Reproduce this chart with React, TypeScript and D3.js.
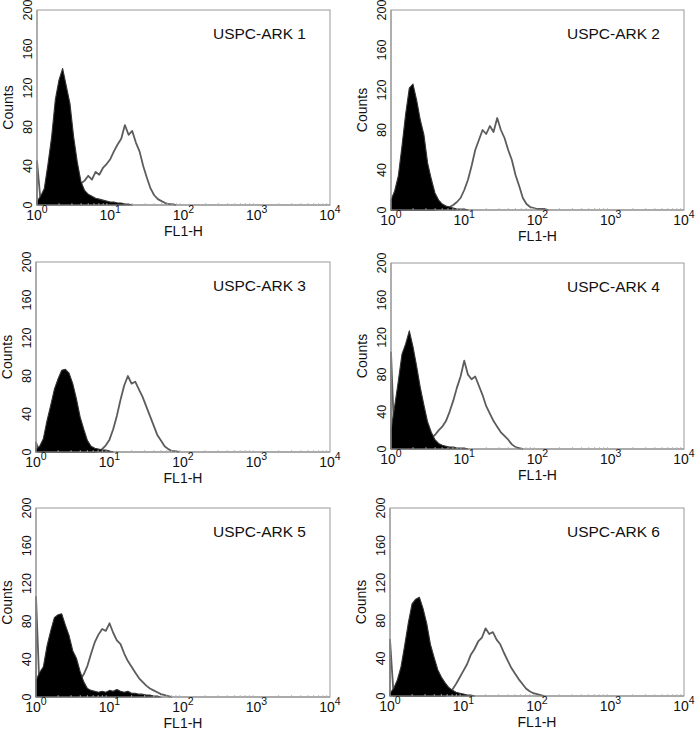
import React from "react";
import * as d3 from "d3";

// histogram bins: one value every 0.05 decade, starting at 10^0
const BIN = 0.05;

const titles = ["USPC-ARK 1", "USPC-ARK 2", "USPC-ARK 3", "USPC-ARK 4", "USPC-ARK 5", "USPC-ARK 6"];
const yTicks = [0, 40, 80, 120, 160, 200];
const xTicks = [1, 10, 100, 1000, 10000];
const xExponents = ["0", "1", "2", "3", "4"];

// filled = control (black), open = stained (grey outline)
const ark1Filled = [4, 9, 17, 42, 70, 108, 128, 140, 122, 104, 70, 44, 24, 15, 11, 9, 7, 6, 5, 4, 3, 3, 2, 2, 1, 1, 0];
const ark1Open = [45, 3, 4, 6, 8, 10, 12, 14, 16, 18, 19, 21, 22, 25, 30, 26, 34, 31, 38, 42, 47, 55, 62, 68, 82, 72, 76, 64, 55, 40, 28, 17, 10, 6, 4, 2, 1, 1, 0];

const ark2Filled = [10, 19, 34, 64, 96, 122, 126, 110, 90, 75, 47, 31, 17, 10, 6, 4, 3, 2, 1, 1, 1, 0];
const ark2Open = [0, 0, 0, 0, 0, 0, 0, 0, 0, 0, 0, 0, 0, 1, 1, 1, 3, 5, 8, 12, 20, 30, 44, 60, 70, 80, 76, 84, 78, 92, 80, 72, 60, 50, 35, 24, 12, 6, 3, 2, 1, 1, 1, 0];

const ark3Filled = [3, 6, 14, 33, 49, 66, 77, 86, 87, 83, 72, 56, 37, 24, 12, 6, 4, 3, 2, 2, 1, 0];
const ark3Open = [10, 0, 0, 0, 0, 0, 0, 0, 0, 0, 0, 0, 0, 0, 0, 0, 0, 1, 3, 7, 13, 24, 38, 55, 70, 80, 72, 74, 66, 58, 48, 38, 28, 18, 12, 6, 3, 1, 1, 0];

const ark4Filled = [20, 46, 73, 102, 113, 127, 110, 89, 66, 47, 29, 18, 10, 6, 4, 3, 2, 2, 1, 1, 1, 0];
const ark4Open = [104, 2, 3, 4, 5, 6, 7, 8, 9, 10, 11, 12, 15, 20, 24, 30, 40, 52, 66, 78, 95, 80, 75, 78, 68, 58, 46, 38, 30, 24, 18, 14, 10, 5, 2, 1, 0];

const ark5Filled = [18, 26, 32, 54, 70, 84, 87, 88, 76, 65, 49, 41, 27, 16, 9, 7, 6, 5, 6, 5, 7, 6, 8, 6, 5, 6, 4, 4, 3, 3, 2, 2, 1, 1, 0];
const ark5Open = [106, 4, 5, 6, 7, 8, 9, 10, 11, 12, 13, 14, 18, 24, 33, 46, 58, 66, 72, 70, 78, 68, 60, 56, 46, 38, 32, 26, 20, 16, 12, 9, 7, 5, 3, 2, 1, 0];

const ark6Filled = [3, 8, 17, 31, 54, 78, 98, 103, 105, 93, 77, 55, 41, 28, 20, 14, 9, 6, 4, 3, 2, 1, 1, 0];
const ark6Open = [60, 0, 0, 0, 0, 0, 0, 0, 0, 0, 0, 0, 0, 0, 0, 0, 4, 7, 13, 20, 27, 34, 44, 50, 58, 62, 72, 66, 68, 60, 55, 46, 38, 30, 24, 18, 13, 8, 5, 3, 2, 1, 0];

const filledSeries = [ark1Filled, ark2Filled, ark3Filled, ark4Filled, ark5Filled, ark6Filled];
const openSeries = [ark1Open, ark2Open, ark3Open, ark4Open, ark5Open, ark6Open];

// panel frames (pixel layout of the scanned figure)
const FRAMES = [
  { left: 37, right: 330, top: 10, bottom: 205 },
  { left: 391, right: 684, top: 10, bottom: 210 },
  { left: 36, right: 330, top: 262, bottom: 452 },
  { left: 391, right: 684, top: 263, bottom: 449 },
  { left: 36, right: 330, top: 508, bottom: 697 },
  { left: 390, right: 684, top: 508, bottom: 696 },
];

const FONT = "'Liberation Sans', Arial, Helvetica, sans-serif";

type Pt = { x: number; v: number };

const toPoints = (vals: number[]): Pt[] => vals.map((v, i) => ({ x: Math.pow(10, i * BIN), v }));

const Panel = ({ frame, title, filled, open }) => {
  const { left, right, top, bottom } = frame;
  const x = d3.scaleLog().domain([1, 10000]).range([left, right]);
  const y = d3.scaleLinear().domain([0, 200]).range([bottom, top]);

  const area = d3
    .area<Pt>()
    .x((d) => x(d.x))
    .y0(y(0))
    .y1((d) => y(d.v));
  const line = d3
    .line<Pt>()
    .x((d) => x(d.x))
    .y((d) => y(d.v));

  // the open curve starts with the first-channel pile-up at the left edge
  const openPts = [{ x: 1, v: 0 }, ...toPoints(open)];

  // minor log ticks on the bottom axis
  const minor: number[] = [];
  for (let e = 0; e < 4; e++) for (let m = 2; m < 10; m++) minor.push(m * Math.pow(10, e));

  return (
    <g>
      <rect x={left} y={top} width={right - left} height={bottom - top} fill="none" stroke="#a3a3a3" strokeWidth={1.1} />

      <path d={line(openPts) || ""} fill="none" stroke="#5c5c5c" strokeWidth={1.8} strokeLinejoin="round" />
      <path d={area(toPoints(filled)) || ""} fill="#000" stroke="#333" strokeWidth={1.1} strokeLinejoin="round" />

      <line x1={left} x2={right} y1={bottom} y2={bottom} stroke="#8a8a8a" strokeWidth={1.2} />
      <line x1={left} x2={left} y1={top} y2={bottom} stroke="#9a9a9a" strokeWidth={1.2} />
      {minor.map((m, i) => (
        <line key={i} x1={x(m)} x2={x(m)} y1={bottom} y2={bottom - 2} stroke="#b0b0b0" strokeWidth={0.8} />
      ))}

      {yTicks.map((t) => (
        <text
          key={t}
          transform={`translate(${left - 5},${y(t)}) rotate(-90)`}
          textAnchor="middle"
          fontSize={12.5}
          fontFamily={FONT}
          fill="#111"
        >
          {t}
        </text>
      ))}
      <text
        transform={`translate(${left - 24},${(top + bottom) / 2}) rotate(-90)`}
        textAnchor="middle"
        fontSize={14}
        fontFamily={FONT}
        fill="#111"
      >
        Counts
      </text>

      {xTicks.map((t, i) => (
        <text key={t} x={x(t)} y={bottom + 15} textAnchor="middle" fontSize={14} fontFamily={FONT} fill="#111">
          10
          <tspan dy={-7} fontSize={10.5}>
            {xExponents[i]}
          </tspan>
        </text>
      ))}
      <text x={(left + right) / 2} y={bottom + 31} textAnchor="middle" fontSize={14} fontFamily={FONT} fill="#111">
        FL1-H
      </text>

      <text x={right - 24} y={top + 29} textAnchor="end" fontSize={15.5} fontFamily={FONT} fill="#111">
        {title}
      </text>
    </g>
  );
};

export default function App() {
  return (
    <svg
      width={695}
      height={731}
      style={{ position: "absolute", left: 0, top: 0, background: "#fff" }}
    >
      <rect width={695} height={731} fill="#fff" />
      {FRAMES.map((f, i) => (
        <Panel key={i} frame={f} title={titles[i]} filled={filledSeries[i]} open={openSeries[i]} />
      ))}
    </svg>
  );
}
